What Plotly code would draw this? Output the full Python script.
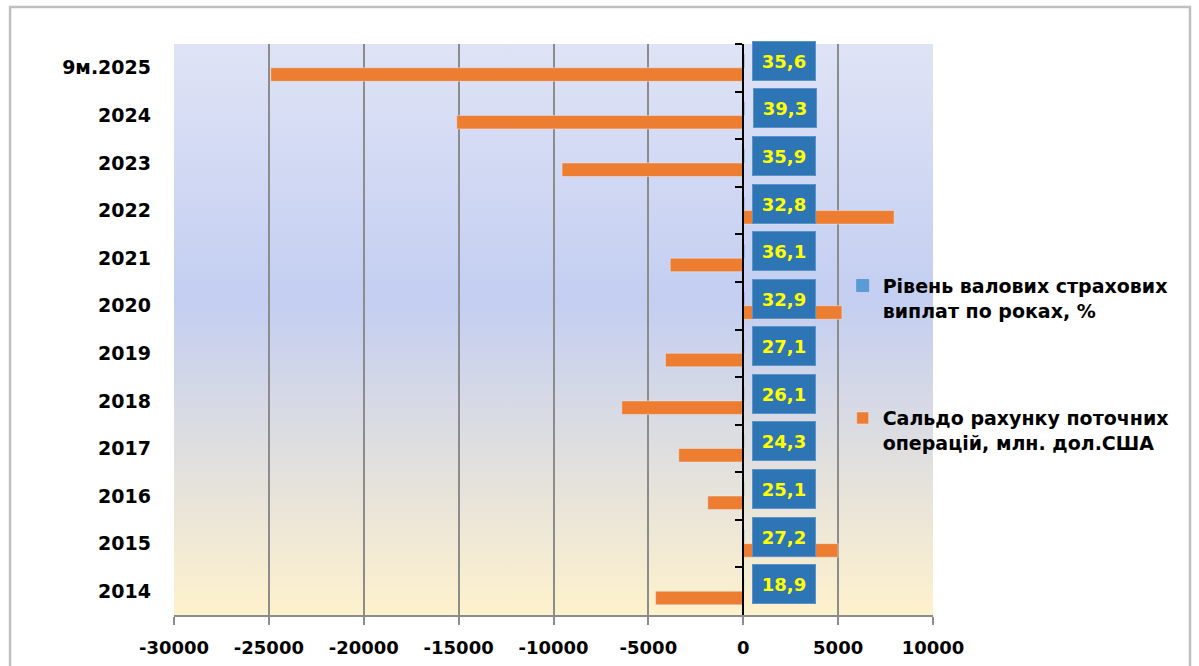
import base64
import plotly.graph_objects as go

# ---- data ----
categories = ["9м.2025", "2024", "2023", "2022", "2021", "2020",
              "2019", "2018", "2017", "2016", "2015", "2014"]
payout_level = [35.6, 39.3, 35.9, 32.8, 36.1, 32.9, 27.1, 26.1, 24.3, 25.1, 27.2, 18.9]
current_account = [-24900, -15100, -9550, 7950, -3850, 5200,
                   -4100, -6400, -3400, -1870, 5000, -4620]
x_tickvals = [-30000, -25000, -20000, -15000, -10000, -5000, 0, 5000, 10000]
x_ticktext = ["-30000", "-25000", "-20000", "-15000", "-10000", "-5000", "0", "5000", "10000"]
name_payout = "Рівень валових страхових<br>виплат по роках, %"
name_balance = "Сальдо рахунку поточних<br>операцій, млн. дол.США"

FONT = "DejaVu Sans"
BLUE = "#5B9BD5"
ORANGE = "#ED7D31"
GRID = "#8C8C8C"
n = len(categories)
yrange = [n - 0.5, -0.5]  # reversed category range (first category on top)

fig = go.Figure()
fig.add_trace(go.Bar(y=categories, x=payout_level, orientation="h", name=name_payout,
                     marker=dict(color=BLUE, line=dict(color=BLUE, width=1)),
                     legendrank=1, legendgroup="a"))
fig.add_trace(go.Bar(y=categories, x=current_account, orientation="h", name=name_balance,
                     marker=dict(color=ORANGE), legendrank=2, legendgroup="b"))
# helper trace to draw the category axis at x = 0
fig.add_trace(go.Scatter(y=categories, x=[0] * n, yaxis="y2", mode="markers",
                         marker=dict(opacity=0), showlegend=False, hoverinfo="skip"))

# value labels in blue boxes (y given as category index on the category axis)
for idx, (cat, v) in enumerate(zip(categories, payout_level)):
    fig.add_annotation(x=v, y=idx, xref="x", yref="y", text=f"{v:.1f}".replace(".", ","),
                       showarrow=False, xanchor="left", yanchor="middle", xshift=8.5, yshift=7,
                       width=58, height=34, borderpad=2, bgcolor="#2E75B6",
                       bordercolor="#5A93CC", borderwidth=1,
                       font=dict(family=FONT, size=18, color="#FFFF00", weight="bold"))

# gradient background of plot area
svg = ('<svg xmlns="http://www.w3.org/2000/svg" width="100" height="100" preserveAspectRatio="none">'
       '<defs><linearGradient id="g" x1="0" y1="0" x2="0" y2="1">'
       '<stop offset="0" stop-color="#DFE3F5"/>'
       '<stop offset="0.45" stop-color="#C3CEF1"/>'
       '<stop offset="1" stop-color="#FEF1CC"/>'
       '</linearGradient></defs><rect width="100" height="100" fill="url(#g)"/></svg>')
src = "data:image/svg+xml;base64," + base64.b64encode(svg.encode()).decode()
fig.add_layout_image(source=src, xref="paper", yref="paper", x=0, y=1, sizex=1, sizey=1,
                     xanchor="left", yanchor="top", sizing="stretch", layer="below")

# outer chart frame
fig.add_shape(type="rect", xref="paper", yref="paper", x0=-0.216, x1=1.3386, y0=-0.15, y1=1.0648,
              line=dict(color="#BFBFBF", width=2.5), fillcolor="rgba(0,0,0,0)", layer="below")

fig.update_layout(
    width=1199, height=666,
    margin=dict(l=174, r=266, t=44, b=51),
    paper_bgcolor="white", plot_bgcolor="rgba(0,0,0,0)",
    barmode="group", bargap=0.43, bargroupgap=0,
    font=dict(family=FONT, color="black"),
    xaxis=dict(range=[-30000, 10000], autorange=False, tickvals=x_tickvals, ticktext=x_ticktext,
               automargin=False,
               showgrid=True, gridcolor=GRID, gridwidth=1.5, zeroline=False,
               showline=True, linecolor=GRID, linewidth=1.5,
               ticks="outside", ticklen=8, tickcolor=GRID, tickwidth=1.5,
               ticklabelstandoff=8,
               tickfont=dict(family=FONT, size=18, color="black", weight="bold")),
    yaxis=dict(type="category", categoryorder="array", categoryarray=categories,
               range=yrange, autorange=False, automargin=False,
               showgrid=False, zeroline=False, showline=False, ticks="",
               ticklabelstandoff=22,
               tickfont=dict(family=FONT, size=19, color="black", weight="bold")),
    yaxis2=dict(type="category", overlaying="y", anchor="free", position=0.75, side="left",
                categoryorder="array", categoryarray=categories,
                range=yrange, autorange=False, automargin=False,
                showgrid=False, zeroline=False, showline=True, linecolor="black", linewidth=2,
                ticks="outside", ticklen=7, tickcolor="black", tickwidth=2,
                tickson="boundaries", showticklabels=False),
    legend=dict(x=0.881, y=0.61, xanchor="left", yanchor="top", bgcolor="rgba(0,0,0,0)",
                traceorder="grouped", tracegroupgap=80, valign="top",
                font=dict(family=FONT, size=19, color="black", weight="bold")),
    showlegend=True,
)

fig.write_html("out.html")
